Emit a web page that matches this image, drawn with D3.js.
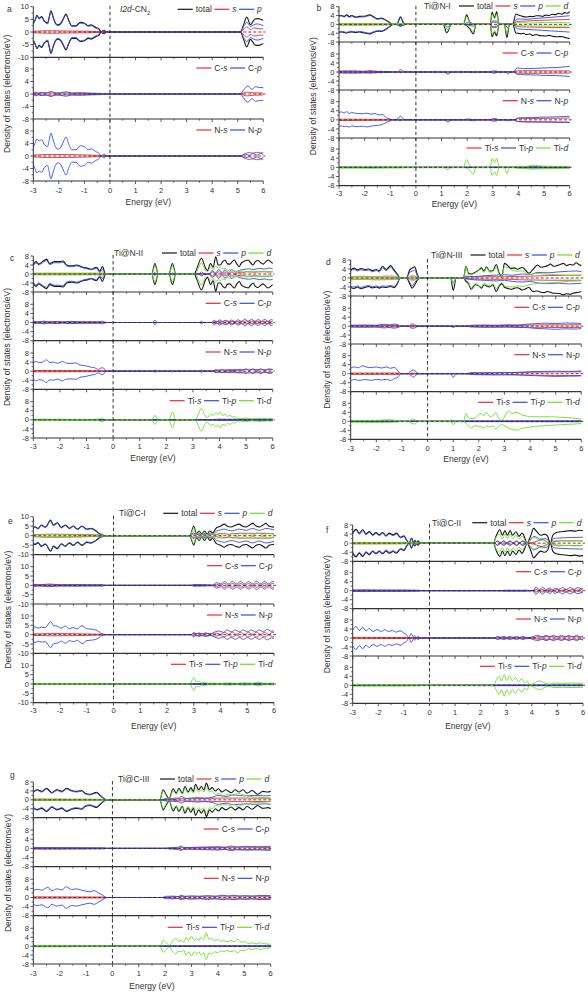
<!DOCTYPE html>
<html><head><meta charset="utf-8">
<script src="https://cdn.jsdelivr.net/npm/d3@7"></script>
<style>
body{margin:0;background:#fff}
svg{display:block}
text{font-family:"Liberation Sans",Arial,sans-serif;fill:#333}
</style>
</head><body>
<svg id="chart" width="588" height="992"></svg>
<script>
// ---------- tick values ----------
const energyTicks = [-3,-2,-1,0,1,2,3,4,5,6];
const ticks8 = [-8,-4,0,4,8];
const ticks10 = [-10,-5,0,5,10];

// ---------- DOS data: [energy, spin-up, (spin-down; default = -up)] ----------
// a: I2d-CN2
const aTot = [[-3,3.4],[-2.93,4.8],[-2.86,6.6],[-2.77,5.4],[-2.67,6.1],[-2.58,4.5],[-2.5,3.8],[-2.44,3.5],[-2.38,5.8],[-2.31,8.4],[-2.22,5.8],[-2.11,3.2],[-2.02,2.8],[-1.9,3.8],[-1.8,5.8],[-1.72,7.1],[-1.62,4.8],[-1.49,2.5],[-1.33,2.5],[-1.16,3.8],[-1.0,3.5],[-0.85,2.5],[-0.74,2.8],[-0.55,1.8],[-0.42,1.1],[-0.35,0],[-0.28,0.5],[-0.22,0.7],[-0.16,0],[5.1,0],[5.25,3.5],[5.35,5.9],[5.5,2.9],[5.6,4.2],[5.67,5.1],[5.8,5.3],[5.9,5.0],[6,4.6]];
const aS = [[-3,0.3],[-2.3,0.5],[-1.7,0.4],[-0.4,0.2],[-0.3,0],[5.1,0],[5.25,1.2],[5.35,2.0],[5.5,1.0],[5.65,1.6],[5.8,1.3],[6,1.2]];
const aP = [[-3,3.1],[-2.93,4.5],[-2.86,6.3],[-2.77,5.1],[-2.67,5.8],[-2.58,4.2],[-2.5,3.5],[-2.44,3.2],[-2.38,5.5],[-2.31,8.1],[-2.22,5.5],[-2.11,2.9],[-2.02,2.5],[-1.9,3.5],[-1.8,5.5],[-1.72,6.8],[-1.62,4.5],[-1.49,2.2],[-1.33,2.2],[-1.16,3.5],[-1.0,3.2],[-0.85,2.2],[-0.74,2.5],[-0.55,1.5],[-0.42,0.9],[-0.35,0],[-0.28,0.4],[-0.22,0.6],[-0.16,0],[5.1,0],[5.25,2.5],[5.35,3.9],[5.5,2.2],[5.62,2.8],[5.75,3.2],[5.9,2.9],[6,2.5]];
const aCs = [[-3,0.2],[-2.3,0.4],[-1.7,0.3],[-0.4,0.1],[-0.3,0],[5.1,0],[5.35,0.6],[5.6,0.4],[6,0.3]];
const aCp = [[-3,0.3],[-2.9,0.6],[-2.8,0.2],[-2.7,0.5],[-2.5,0.3],[-2.3,0.8],[-2.1,0.2],[-1.7,0.7],[-1.5,0.3],[-1.2,0.4],[-0.8,0.3],[-0.4,0.2],[-0.3,0],[5.1,0],[5.25,1.5],[5.4,2.6],[5.55,1.5],[5.7,2.3],[5.85,2.1],[6,2.0]];
const aNs = [[-3,0.3],[-2.3,0.5],[-0.4,0.2],[-0.3,0],[5.1,0],[5.3,0.8],[5.45,1.1],[5.6,0.9],[5.75,1.2],[5.9,1.0],[6,1.0]];
const aNp = [[-3,2.8],[-2.93,4.2],[-2.86,5.4],[-2.77,4.8],[-2.67,5.2],[-2.58,3.8],[-2.5,3.2],[-2.44,3.0],[-2.38,5.0],[-2.31,7.3],[-2.22,5.0],[-2.11,2.6],[-2.02,2.2],[-1.9,3.2],[-1.8,5.0],[-1.72,6.1],[-1.62,4.0],[-1.49,2.0],[-1.33,2.0],[-1.16,3.3],[-1.0,3.0],[-0.85,2.0],[-0.74,2.3],[-0.55,1.4],[-0.42,0.8],[-0.35,0],[-0.28,0.4],[-0.22,0.6],[-0.16,0],[5.1,0],[5.3,0.6],[5.45,0.2],[5.6,0.8],[5.75,0.3],[5.9,0.8],[6,0.5]];

// b: Ti@N-I
const bTot = [[-3,3.9,-3.6],[-2.9,4.0,-3.5],[-2.8,3.6,-3.7],[-2.7,4.3,-3.9],[-2.6,3.5,-3.6],[-2.5,4.0,-3.4],[-2.35,3.3,-3.7],[-2.2,3.6,-3.5],[-2.0,3.7,-3.9],[-1.8,4.3,-4.3],[-1.65,3.4,-3.6],[-1.5,2.5,-3.1],[-1.35,2.8,-3.2],[-1.15,1.8,-2.1],[-1.0,0.6,-0.9],[-0.9,0,0],[-0.75,0,0],[-0.6,3.4,-0.8],[-0.5,1.0,-0.3],[-0.4,0,0],[1.07,0,0],[1.2,0.2,-3.9],[1.39,0,0],[1.85,0,0],[1.98,4.3,-0.5],[2.1,1.0,-2.0],[2.24,0.3,-4.3],[2.35,0,0],[2.9,0,0],[2.97,5.6,-5.6],[3.07,3.0,-3.5],[3.15,5.8,-5.2],[3.25,0,0],[3.45,0,0],[3.55,0.5,-6.0],[3.65,0,0],[3.78,0,0],[3.9,4.7,-3.9],[4.0,4.2,-4.1],[4.1,3.9,-4.3],[4.2,3.5,-4.0],[4.3,3.3,-4.6],[4.45,3.6,-4.4],[4.55,3.5,-5.0],[4.7,3.9,-4.6],[4.8,3.9,-5.0],[4.95,3.6,-5.2],[5.05,4.2,-5.3],[5.2,4.0,-5.0],[5.3,4.6,-5.3],[5.45,4.4,-5.6],[5.55,5.0,-5.6],[5.7,4.6,-5.5],[5.8,5.3,-5.9],[5.9,5.0,-6.2],[6,5.8,-6.5]];
const bS = [[-3,0.3,-0.3],[-1,0.2,-0.2],[-0.9,0,0],[2.9,0,0],[3.0,1.0,-1.0],[3.15,0.8,-0.8],[3.25,0,0],[3.8,0,0],[3.95,1.3,-1.0],[4.3,1.5,-1.2],[4.8,1.8,-1.3],[5.3,2.0,-1.4],[6,2.2,-1.5]];
const bP = [[-3,3.6,-3.3],[-2.9,3.8,-3.2],[-2.8,3.3,-3.4],[-2.7,4.0,-3.6],[-2.6,3.2,-3.3],[-2.5,3.7,-3.1],[-2.35,3.0,-3.4],[-2.2,3.3,-3.2],[-2.0,3.4,-3.6],[-1.8,4.0,-4.0],[-1.65,3.1,-3.3],[-1.5,2.3,-2.9],[-1.35,2.6,-3.0],[-1.15,1.6,-1.9],[-1.0,0.5,-0.8],[-0.9,0,0],[-0.75,0,0],[-0.6,3.0,-0.6],[-0.5,0.8,-0.2],[-0.4,0,0],[1.07,0,0],[1.25,0.1,-1.2],[1.39,0,0],[1.9,0,0],[2.0,0.8,-0.2],[2.24,0.1,-0.8],[2.35,0,0],[2.9,0,0],[3.0,1.5,-1.5],[3.15,1.5,-1.3],[3.25,0,0],[3.45,0,0],[3.58,0.2,-1.5],[3.7,0,0],[3.8,0,0],[3.95,2.5,-2.0],[4.3,2.3,-2.3],[4.8,2.8,-2.6],[5.3,3.2,-3.0],[6,3.9,-3.5]];
const bD = [[-3,0.4,-0.4],[-2,0.3,-0.3],[-1,0.2,-0.2],[-0.6,0.5,-0.2],[-0.4,0,0],[1.07,0,0],[1.25,0.1,-2.5],[1.39,0,0],[1.85,0,0],[1.98,3.5,-0.4],[2.1,0.8,-1.5],[2.24,0.2,-3.3],[2.35,0,0],[2.9,0,0],[2.97,4.5,-4.5],[3.07,2.5,-2.8],[3.15,4.6,-4.2],[3.25,0,0],[3.45,0,0],[3.55,0.3,-4.0],[3.65,0,0],[3.8,0,0],[3.95,0.8,-0.6],[4.5,0.6,-0.7],[5,0.9,-0.8],[6,0.7,-0.7]];
const bCs = [[-3,0.3],[-1,0.2],[-0.9,0],[3.8,0],[3.95,0.5],[4.5,0.6],[5.5,0.5],[6,0.5]];
const bCp = [[-3,0.4,-0.4],[-2.5,0.5,-0.5],[-2,0.3,-0.4],[-1.8,0.6,-0.5],[-1.5,0.3,-0.3],[-1,0.2,-0.2],[-0.9,0,0],[-0.7,0,0],[-0.6,1.1,-0.3],[-0.5,0.4,0],[-0.4,0,0],[1.1,0,0],[1.25,0,-1.0],[1.4,0,0],[1.9,0,0],[2.0,0.3,-0.1],[2.24,0.1,-0.3],[2.35,0,0],[2.9,0,0],[3.0,0.5,-0.5],[3.15,0.4,-0.3],[3.25,0,0],[3.5,0,0],[3.6,0.1,-0.9],[3.7,0,0],[3.8,0,0],[3.95,1.8,-1.0],[4.2,1.5,-1.2],[4.6,1.6,-1.3],[5,1.8,-1.5],[5.5,2.0,-1.6],[6,2.5,-2.0]];
const bNs = [[-3,0.3],[-1,0.2],[-0.9,0],[3.8,0],[3.95,0.5,-0.7],[4.5,0.6,-0.8],[5.5,0.7,-0.9],[6,0.8,-1.0]];
const bNp = [[-3,3.2,-2.9],[-2.9,3.5,-2.7],[-2.8,3.0,-3.0],[-2.7,3.6,-2.8],[-2.6,2.8,-3.2],[-2.5,3.2,-2.7],[-2.3,2.8,-3.0],[-2.1,2.7,-2.8],[-1.9,2.9,-3.1],[-1.75,2.5,-2.8],[-1.6,2.8,-2.5],[-1.45,2.2,-2.4],[-1.3,2.3,-2.0],[-1.15,1.0,-1.2],[-1.0,0.3,-0.4],[-0.9,0,0],[-0.75,0,0],[-0.6,1.6,-0.3],[-0.5,0.5,0],[-0.4,0,0],[1.1,0,0],[1.25,0,-0.9],[1.4,0,0],[1.9,0,0],[2.0,0.4,-0.1],[2.24,0.1,-0.4],[2.35,0,0],[2.9,0,0],[3.0,0.6,-0.6],[3.15,0.4,-0.5],[3.25,0,0],[3.5,0,0],[3.6,0,-0.5],[3.7,0,0],[3.85,0,0],[4.0,0.9,-0.8],[4.5,1.0,-1.0],[5,1.2,-1.0],[5.5,1.3,-1.1],[6,1.6,-1.2]];
const bTis = [[-3,0.1],[6,0.1]];
const bTip = [[-3,0.1],[3.8,0.1],[4.5,0.3],[6,0.2]];
const bTid = [[-3,0.3,-0.3],[-2,0.3,-0.3],[-1.8,0.5,-0.4],[-1,0.2,-0.2],[-0.6,0.4,-0.2],[-0.4,0,0],[1.07,0,0],[1.25,0.1,-1.0],[1.39,0,0],[1.85,0,0],[1.98,3.4,-0.3],[2.1,0.8,-1.3],[2.24,0.2,-3.0],[2.35,0,0],[2.9,0,0],[2.97,3.9,-3.5],[3.07,2.2,-2.0],[3.15,4.0,-3.5],[3.25,0,0],[3.45,0,0],[3.55,0.2,-2.8],[3.65,0,0],[3.8,0,0],[3.95,0.5,-0.4],[4.3,0.4,-0.5],[4.6,1.0,-0.8],[4.9,0.5,-0.6],[5.5,0.4,-0.5],[6,0.4,-0.4]];

// c: Ti@N-II
const cTot = [[-3,4.0],[-2.9,5.5],[-2.8,4.4],[-2.65,5.5],[-2.5,6.5],[-2.38,4.7],[-2.2,5.5],[-2.0,5.5],[-1.88,5.8],[-1.75,4.0],[-1.57,3.6],[-1.38,4.0],[-1.13,3.0],[-0.94,2.5],[-0.82,2.1],[-0.63,3.0],[-0.5,1.3],[-0.4,3.3],[-0.28,0],[1.45,0],[1.57,4.7],[1.7,0],[2.1,0],[2.23,4.7],[2.36,0],[3.05,0],[3.15,2.5],[3.32,7.0],[3.48,2.5],[3.55,1.5],[3.66,4.7],[3.76,3.0],[3.86,7.7],[3.95,4.0],[4.03,4.0],[4.12,5.5],[4.21,6.2],[4.3,4.5],[4.39,4.4],[4.48,5.5],[4.56,6.2],[4.65,4.5],[4.74,3.3],[4.82,4.8],[4.9,5.5],[5.0,6.0],[5.08,6.2],[5.17,5.0],[5.26,4.0],[5.35,5.5],[5.45,6.0],[5.55,5.0],[5.64,4.4],[5.74,5.5],[5.83,6.2],[5.92,5.5],[6,4.7]];
const cS = [[-3,0.3],[-0.4,0.3],[-0.28,0],[3.6,0],[3.75,0.9],[3.86,0.1],[3.97,1.0],[4.1,0.1],[4.2,0.9],[4.35,0.1],[4.45,0.8],[4.6,0.1],[4.7,0.7],[4.85,0.5],[5.0,1.0],[5.3,0.8],[5.6,1.0],[6,0.9]];
const cP = [[-3,3.6],[-2.9,5.0],[-2.8,4.0],[-2.65,5.0],[-2.5,5.9],[-2.38,4.2],[-2.2,5.0],[-2.0,5.0],[-1.88,5.2],[-1.75,3.6],[-1.57,3.2],[-1.38,3.6],[-1.13,2.7],[-0.94,2.2],[-0.82,1.9],[-0.63,2.5],[-0.5,0.8],[-0.4,2.0],[-0.28,0],[1.5,0],[1.57,0.7],[1.65,0],[2.15,0],[2.23,0.5],[2.3,0],[3.2,0],[3.32,0.8],[3.45,0],[3.6,0],[3.72,1.5],[3.86,0.5],[3.97,2.0],[4.1,0.6],[4.2,1.8],[4.35,0.6],[4.45,2.0],[4.6,0.8],[4.74,1.6],[4.9,2.0],[5.1,2.3],[5.3,2.0],[5.5,2.5],[5.7,2.2],[5.85,2.6],[6,2.4]];
const cD = [[-3,0.3],[-2,0.3],[-0.5,0.3],[-0.4,1.0],[-0.3,0],[1.45,0],[1.57,3.5],[1.7,0],[2.1,0],[2.23,3.5],[2.36,0],[3.1,0],[3.2,2.5],[3.32,5.0],[3.45,2.0],[3.55,1.0],[3.66,3.0],[3.76,2.0],[3.86,3.5],[3.95,2.5],[4.03,3.0],[4.12,2.2],[4.21,2.5],[4.3,1.5],[4.39,2.0],[4.48,1.2],[4.56,1.5],[4.7,1.0],[4.9,1.3],[5.2,1.0],[5.5,1.2],[5.8,1.0],[6,1.1]];
const cCs = [[-3,0.3],[-0.3,0.2],[-0.25,0],[3.7,0],[3.86,0.5],[4.2,0.6],[4.6,0.5],[5,0.6],[5.5,0.5],[6,0.5]];
const cCp = [[-3,0.5],[-2.8,0.2],[-2.6,0.6],[-2.4,0.2],[-2.1,0.5],[-1.9,0.2],[-1.6,0.5],[-1.2,0.3],[-0.9,0.3],[-0.5,0.3],[-0.4,0.6],[-0.3,0],[1.5,0],[1.57,1.0],[1.65,0],[3.25,0],[3.32,0.6],[3.4,0],[3.7,0],[3.8,1.0],[3.9,0.2],[4.0,1.2],[4.12,0.3],[4.22,1.0],[4.35,0.3],[4.45,1.1],[4.58,0.3],[4.7,1.2],[4.82,0.4],[4.95,1.5],[5.08,0.5],[5.2,1.4],[5.33,0.5],[5.45,1.3],[5.58,0.5],[5.7,1.4],[5.83,0.5],[5.95,1.3],[6,1.1]];
const cNs = [[-3,0.3],[-0.3,0.2],[-0.25,0],[3.7,0],[3.86,0.5],[4.3,0.6],[5,0.8],[5.5,0.7],[6,0.6]];
const cNp = [[-3,3.5],[-2.9,4.3],[-2.8,3.8],[-2.65,4.0],[-2.5,5.0],[-2.38,3.8],[-2.25,4.0],[-2.1,3.5],[-1.9,4.3],[-1.75,3.5],[-1.6,3.4],[-1.4,3.6],[-1.25,2.7],[-1.05,2.4],[-0.85,1.8],[-0.7,1.5],[-0.55,0.8],[-0.47,1.3],[-0.38,1.5],[-0.3,0.5],[-0.25,0],[1.5,0],[1.57,0.5],[1.65,0],[2.15,0],[2.23,0.4],[2.3,0],[3.25,0],[3.32,0.5],[3.4,0],[3.75,0],[3.86,0.6],[3.97,0.1],[4.1,0.7],[4.2,0.1],[4.35,0.5],[4.5,0.2],[4.7,0.5],[4.9,0.4],[5.0,1.0],[5.1,0.2],[5.25,1.0],[5.4,0.2],[5.55,1.0],[5.7,0.2],[5.85,1.0],[6,0.7]];
const cTis = [[-3,0.1],[6,0.1]];
const cTip = [[-3,0.1],[3.7,0.1],[4,0.3],[6,0.2]];
const cTid = [[-3,0.3],[-1,0.2],[-0.55,0.3],[-0.4,0.9],[-0.3,0],[1.45,0],[1.57,2.0],[1.7,0],[2.1,0],[2.23,3.5],[2.36,0],[3.1,0],[3.2,2.5],[3.32,5.0],[3.45,2.0],[3.55,1.0],[3.66,2.5],[3.76,2.0],[3.86,3.0],[3.95,2.3],[4.03,3.5],[4.12,2.0],[4.21,2.5],[4.3,1.5],[4.39,2.0],[4.48,1.2],[4.56,1.5],[4.7,0.5],[4.9,0.6],[5.0,0.8],[5.2,0.4],[5.5,0.7],[5.8,0.5],[6,0.6]];

// d: Ti@N-III
const dTot = [[-3,3.5,-4.2],[-2.87,4.4,-4.6],[-2.74,3.6,-4.0],[-2.6,4.2,-4.8],[-2.45,3.8,-4.2],[-2.3,4.0,-3.8],[-2.15,3.3,-4.4],[-2.0,3.8,-4.0],[-1.88,3.2,-4.5],[-1.76,5.2,-4.0],[-1.62,3.8,-4.2],[-1.44,5.5,-3.8],[-1.31,3.6,-4.3],[-1.18,1.7,-2.5],[-1.07,0,0],[-0.82,0,0],[-0.7,3.5,-2.5],[-0.6,4.4,-4.5],[-0.5,5.0,-3.0],[-0.4,1.5,-1.0],[-0.3,0,0],[0.9,0,0],[1.0,0.3,-5.5],[1.12,0,0],[1.4,0,0],[1.5,5.2,-1.5],[1.6,2.0,-2.5],[1.7,1.8,-5.0],[1.85,2.5,-3.0],[2.0,3.5,-3.5],[2.1,4.5,-4.5],[2.2,3.0,-3.0],[2.3,5.0,-3.5],[2.42,3.0,-4.0],[2.55,3.2,-3.0],[2.68,6.0,-6.0],[2.8,2.0,-3.5],[2.9,0.5,-2.5],[3.0,6.5,-4.1],[3.1,5.8,-4.5],[3.25,4.3,-5.0],[3.4,4.5,-4.5],[3.5,3.9,-4.3],[3.7,4.7,-5.3],[3.96,2.1,-4.2],[4.1,3.6,-6.0],[4.29,5.8,-5.8],[4.42,4.8,-6.3],[4.55,5.0,-6.5],[4.68,5.5,-6.0],[4.8,6.2,-6.3],[4.92,5.2,-6.8],[5.05,5.5,-6.8],[5.18,6.0,-7.0],[5.3,6.5,-7.5],[5.42,5.5,-7.0],[5.55,6.0,-7.2],[5.68,5.8,-6.8],[5.8,6.8,-6.5],[5.9,6.0,-6.3],[6,5.5,-6.0]];
const dS = [[-3,0.5,-0.5],[-1.1,0.4,-0.4],[-1.07,0,0],[-0.8,0,0],[-0.6,0.6,-0.6],[-0.3,0,0],[1.4,0,0],[1.5,0.5,-0.3],[2.0,0.5,-0.5],[2.7,0.6,-0.6],[3.0,0.6,-0.5],[3.6,0.7,-0.8],[4.2,0.9,-0.9],[4.8,1.1,-1.0],[5.4,1.2,-1.0],[6,1.3,-1.0]];
const dP = [[-3,3.0,-3.7],[-2.87,3.9,-4.0],[-2.74,3.1,-3.5],[-2.6,3.7,-4.2],[-2.45,3.3,-3.7],[-2.3,3.5,-3.3],[-2.15,2.8,-3.9],[-2.0,3.3,-3.5],[-1.88,2.7,-4.0],[-1.76,4.5,-3.5],[-1.62,3.3,-3.7],[-1.44,4.8,-3.3],[-1.31,3.1,-3.8],[-1.18,1.4,-2.2],[-1.07,0,0],[-0.82,0,0],[-0.7,2.5,-1.8],[-0.6,3.0,-3.5],[-0.5,3.5,-2.0],[-0.4,1.0,-0.6],[-0.3,0,0],[0.9,0,0],[1.0,0.1,-2.0],[1.12,0,0],[1.4,0,0],[1.5,0.8,-0.3],[1.8,0.6,-0.8],[2.2,1.0,-1.0],[2.68,1.3,-1.3],[3.0,1.5,-1.0],[3.3,1.2,-1.5],[3.7,1.8,-1.8],[4.0,1.5,-1.5],[4.3,2.5,-2.2],[4.7,2.3,-2.5],[5.1,2.7,-2.3],[5.5,3.0,-2.6],[5.8,3.1,-2.5],[6,2.8,-2.3]];
const dD = [[-3,0.6,-0.8],[-2.5,0.8,-0.6],[-2,0.6,-0.9],[-1.5,1.0,-0.7],[-1.1,0.3,-0.3],[-1.07,0,0],[-0.8,0,0],[-0.6,1.2,-1.2],[-0.3,0,0],[0.9,0,0],[1.0,0.1,-3.0],[1.12,0,0],[1.4,0,0],[1.5,5.0,-1.0],[1.6,1.5,-2.0],[1.7,1.5,-4.5],[1.85,2.0,-2.5],[2.1,4.0,-4.0],[2.2,2.5,-2.5],[2.3,4.5,-3.0],[2.45,2.5,-3.5],[2.55,2.8,-2.5],[2.68,4.7,-4.7],[2.8,1.5,-3.0],[2.9,0.4,-2.0],[3.0,5.0,-3.5],[3.15,4.5,-3.8],[3.3,3.5,-4.0],[3.5,3.0,-3.5],[3.7,3.2,-3.8],[3.96,1.5,-3.0],[4.2,2.0,-2.5],[4.5,1.8,-2.3],[5.0,1.5,-2.0],[5.5,1.2,-1.5],[6,1.0,-1.2]];
const dCs = [[-3,0.3],[-1.1,0.3],[-1.07,0],[-0.8,0],[-0.6,0.4],[-0.3,0],[1.7,0],[2,0.3],[3.5,0.3],[4,0.5],[5,0.6],[6,0.6]];
const dCp = [[-3,0.4,-0.4],[-2.5,0.5,-0.5],[-2,0.4,-0.4],[-1.7,0.9,-0.8],[-1.5,0.6,-0.6],[-1.3,0.9,-0.9],[-1.1,0.3,-0.3],[-1.07,0,0],[-0.75,0,0],[-0.6,1.0,-1.0],[-0.5,0.5,-0.8],[-0.35,0,0],[0.9,0,0],[1.0,0,-0.6],[1.12,0,0],[1.5,0,0],[1.7,0.4,-0.4],[2.2,0.5,-0.5],[2.7,0.4,-0.5],[3.1,0.6,-0.4],[3.5,0.5,-0.6],[3.8,0.8,-0.6],[4.2,1.1,-1.0],[4.6,1.3,-1.2],[5.0,1.2,-1.4],[5.4,1.4,-1.2],[5.8,1.3,-1.3],[6,1.2,-1.1]];
const dNs = [[-3,0.3],[-1.1,0.3],[-1.07,0],[-0.75,0],[-0.6,0.3],[-0.3,0],[1.5,0],[2,0.3],[4,0.6],[5,0.8],[6,0.8]];
const dNp = [[-3,2.5,-3.2],[-2.85,3.0,-2.5],[-2.7,2.6,-3.0],[-2.55,3.5,-2.8],[-2.4,3.0,-2.6],[-2.2,2.7,-3.0],[-2.0,3.0,-2.5],[-1.8,2.5,-2.8],[-1.6,3.0,-2.5],[-1.45,2.4,-3.0],[-1.3,2.8,-2.2],[-1.15,1.2,-1.5],[-1.05,0,0],[-0.75,0,0],[-0.65,1.2,-0.8],[-0.55,1.6,-1.5],[-0.45,1.0,-0.6],[-0.35,0,0],[0.9,0,0],[1.0,0,-1.6],[1.12,0,0],[1.5,0,0],[1.7,0.5,-0.4],[2.2,0.4,-0.5],[2.7,0.5,-0.5],[3.2,0.5,-0.4],[3.7,0.7,-0.6],[4.0,0.9,-0.8],[4.5,1.0,-1.0],[5.0,1.1,-1.2],[5.5,1.0,-1.1],[6,1.2,-1.0]];
const dTis = [[-3,0.1],[6,0.1]];
const dTip = [[-3,0.1],[6,0.2]];
const dTid = [[-3,0.4,-0.4],[-2,0.4,-0.5],[-1.6,0.7,-0.5],[-1.1,0.2,-0.2],[-1.07,0,0],[-0.75,0,0],[-0.6,1.0,-1.0],[-0.5,0.8,-1.2],[-0.35,0,0],[0.9,0,0],[1.0,0,-1.5],[1.12,0,0],[1.4,0,0],[1.5,3.5,-0.8],[1.6,1.5,-2.0],[1.7,1.2,-3.0],[1.85,1.5,-2.0],[2.1,3.5,-2.5],[2.2,2.5,-3.0],[2.3,3.8,-2.0],[2.45,2.0,-2.5],[2.55,2.5,-2.0],[2.65,3.8,-3.5],[2.8,1.0,-2.0],[2.9,0.5,-1.5],[3.15,4.5,-3.0],[3.3,3.5,-3.5],[3.5,4.0,-4.0],[3.65,3.0,-3.2],[3.8,2.5,-3.0],[4.0,2.0,-2.5],[4.2,2.0,-2.2],[4.5,2.0,-2.0],[4.8,2.0,-1.8],[5.2,1.8,-1.5],[5.6,1.5,-1.3],[6,1.0,-1.0]];

// e: Ti@C-I
const eTot = [[-3,3.9],[-2.94,4.7],[-2.82,3.8],[-2.7,5.6],[-2.55,4.5],[-2.35,8.2],[-2.25,5.6],[-2.1,6.8],[-1.95,4.4],[-1.8,5.6],[-1.65,3.9],[-1.5,5.1],[-1.35,3.5],[-1.18,5.1],[-1.0,3.5],[-0.85,3.9],[-0.66,2.6],[-0.54,1.2],[-0.42,0.35],[-0.35,0],[2.85,0],[3.0,5.0],[3.1,1.0],[3.2,2.5],[3.3,0.8],[3.4,2.5],[3.5,0.8],[3.6,2.5],[3.7,1.5],[3.85,4.2],[4.0,5.0],[4.14,6.1],[4.25,5.0],[4.4,4.6],[4.55,5.5],[4.7,6.1],[4.82,5.0],[4.95,4.6],[5.08,5.5],[5.2,6.5],[5.32,5.2],[5.45,4.6],[5.58,5.5],[5.7,6.5],[5.82,5.0],[6,4.5]];
const eS = [[-3,0.5],[-2.35,0.8],[-0.4,0.3],[-0.35,0],[2.85,0],[3.0,0.8],[3.7,0.8],[3.85,0.5],[4.0,1.2],[4.3,0.8],[4.7,1.3],[5.2,1.2],[5.7,1.3],[6,1.0]];
const eP = [[-3,3.6],[-2.94,4.4],[-2.82,3.5],[-2.7,5.3],[-2.55,4.2],[-2.35,7.8],[-2.25,5.3],[-2.1,6.4],[-1.95,4.1],[-1.8,5.3],[-1.65,3.6],[-1.5,4.8],[-1.35,3.2],[-1.18,4.8],[-1.0,3.2],[-0.85,3.6],[-0.66,2.3],[-0.54,1.0],[-0.46,0.7],[-0.42,0.8],[-0.35,0],[2.85,0],[3.0,1.5],[3.1,0.4],[3.2,1.0],[3.3,0.3],[3.4,1.0],[3.5,0.3],[3.6,1.0],[3.7,0.6],[3.85,2.5],[4.0,3.0],[4.14,3.5],[4.3,2.8],[4.45,2.6],[4.7,3.5],[4.95,2.8],[5.2,3.8],[5.45,2.8],[5.7,3.8],[6,3.0]];
const eD = [[-3,0.4],[-2.35,0.6],[-1,0.3],[-0.4,0.2],[-0.35,0],[2.85,0],[3.0,4.0],[3.1,0.5],[3.2,2.0],[3.3,0.4],[3.4,1.8],[3.5,0.4],[3.6,1.5],[3.7,0.5],[3.85,1.5],[4.0,0.3],[4.15,1.5],[4.3,0.3],[4.45,1.3],[4.6,0.3],[4.75,1.3],[4.9,0.3],[5.05,1.2],[5.2,0.3],[5.4,1.5],[5.6,0.3],[5.8,1.2],[6,0.5]];
const eCs = [[-3,0.3],[-0.4,0.2],[-0.35,0],[3.7,0],[3.85,0.6],[4.0,0.1],[4.15,1.0],[4.3,0.1],[4.45,1.0],[4.6,0.1],[4.75,1.0],[4.9,0.1],[5.05,1.0],[5.2,0.1],[5.35,1.0],[5.5,0.1],[5.65,1.0],[5.8,0.1],[5.95,1.0],[6,0.8]];
const eCp = [[-3,0.6],[-2.8,0.3],[-2.4,0.7],[-2.0,0.3],[-1.5,0.4],[-1,0.3],[-0.5,0.3],[-0.4,0.5],[-0.35,0],[2.9,0],[3.0,0.5],[3.5,0.3],[3.7,0.2],[3.85,1.5],[4.0,0.8],[4.15,2.0],[4.3,0.8],[4.45,2.0],[4.6,0.8],[4.75,2.0],[4.9,0.8],[5.05,2.0],[5.2,0.8],[5.35,2.2],[5.5,0.8],[5.65,2.0],[5.8,0.8],[5.95,2.0],[6,1.8]];
const eNs = [[-3,0.4],[-2.35,0.6],[-0.4,0.2],[-0.35,0],[2.9,0],[3.0,0.6],[3.7,0.5],[3.85,0.8],[4.0,0.2],[4.15,1.2],[4.3,0.2],[4.45,1.2],[4.6,0.2],[4.75,1.2],[4.9,0.2],[5.05,1.2],[5.2,0.2],[5.35,1.2],[5.5,0.2],[5.65,1.2],[5.8,0.2],[5.95,1.2],[6,1.0]];
const eNp = [[-3,2.9],[-2.94,4.3],[-2.82,3.5],[-2.7,4.0],[-2.55,3.8],[-2.35,7.0],[-2.25,5.0],[-2.1,4.5],[-1.95,3.5],[-1.8,4.6],[-1.65,3.2],[-1.5,3.8],[-1.35,3.0],[-1.18,4.8],[-1.0,3.2],[-0.85,3.0],[-0.66,2.5],[-0.54,1.6],[-0.46,0.6],[-0.4,0.5],[-0.35,0],[2.9,0],[3.0,1.2],[3.1,0.3],[3.2,1.0],[3.3,0.3],[3.45,1.0],[3.6,0.3],[3.8,1.5],[3.95,2.0],[4.1,1.2],[4.25,2.5],[4.4,1.5],[4.55,2.5],[4.7,1.5],[4.85,2.5],[5.0,1.5],[5.15,2.5],[5.3,1.5],[5.45,2.5],[5.6,1.5],[5.75,2.8],[5.9,1.8],[6,2.0]];
const eTis = [[-3,0.1],[6,0.1]];
const eTip = [[-3,0.1],[6,0.2]];
const eTid = [[-3,0.3],[-0.4,0.2],[-0.35,0],[2.85,0],[3.0,3.5],[3.1,1.0],[3.2,1.5],[3.3,0.5],[3.4,1.0],[3.55,0.3],[3.7,0.5],[4.0,0.3],[4.3,0.6],[4.6,0.4],[4.9,0.6],[5.2,0.4],[5.4,1.0],[5.6,0.4],[6,0.5]];

// f: Ti@C-II
const fTot = [[-3,4.4],[-2.87,6.1],[-2.74,4.4],[-2.61,5.9],[-2.48,4.1],[-2.35,5.1],[-2.22,3.7],[-2.09,4.7],[-1.96,3.7],[-1.83,4.7],[-1.7,3.4],[-1.57,4.4],[-1.42,3.7],[-1.29,4.4],[-1.13,2.6],[-1.0,3.2],[-0.9,1.5],[-0.8,0],[-0.7,2.2],[-0.63,0.5],[-0.57,1.2],[-0.5,0.2],[-0.44,1.0],[-0.38,0],[2.5,0],[2.6,3.0],[2.75,5.9],[2.85,3.5],[2.95,5.5],[3.05,3.5],[3.15,5.5],[3.25,3.5],[3.38,5.0],[3.5,3.0],[3.62,4.5],[3.72,2.5],[3.81,0],[3.95,3.0],[4.07,6.5],[4.2,5.0],[4.35,3.5],[4.5,4.0],[4.62,3.0],[4.72,0],[4.82,3.5],[4.95,4.7],[5.1,5.0],[5.3,5.2],[5.5,5.5],[5.7,5.3],[5.85,5.7],[6,5.5]];
const fS = [[-3,0.3],[-0.4,0.2],[-0.38,0],[2.55,0],[2.65,0.8],[2.78,0.1],[2.9,0.8],[3.02,0.1],[3.15,0.8],[3.27,0.1],[3.4,0.8],[3.52,0.1],[3.65,0.8],[3.8,0],[4.1,0.5],[4.4,1.5],[4.6,0.5],[4.75,0],[4.9,0.8],[5.3,1.0],[5.7,1.0],[6,1.0]];
const fP = [[-3,4.0],[-2.87,5.7],[-2.74,4.0],[-2.61,5.5],[-2.48,3.7],[-2.35,4.7],[-2.22,3.3],[-2.09,4.3],[-1.96,3.3],[-1.83,4.3],[-1.7,3.0],[-1.57,4.0],[-1.42,3.3],[-1.29,4.0],[-1.13,2.3],[-1.0,2.9],[-0.9,1.3],[-0.8,0],[-0.7,2.0],[-0.63,0.4],[-0.57,1.1],[-0.5,0.2],[-0.44,0.9],[-0.38,0],[2.55,0],[2.65,1.0],[2.78,0.2],[2.9,1.0],[3.02,0.2],[3.15,1.0],[3.27,0.2],[3.4,1.0],[3.52,0.2],[3.65,1.0],[3.8,0],[3.95,1.5],[4.07,3.0],[4.2,2.5],[4.35,1.5],[4.5,2.0],[4.62,1.5],[4.72,0],[4.85,2.0],[5.0,2.2],[5.3,2.4],[5.6,2.5],[6,2.6]];
const fD = [[-3,0.3],[-2,0.3],[-0.4,0.2],[-0.38,0],[2.5,0],[2.6,2.5],[2.72,4.0],[2.85,2.0],[2.95,4.0],[3.05,2.0],[3.15,4.0],[3.27,2.0],[3.38,3.5],[3.5,1.8],[3.62,3.0],[3.72,1.5],[3.81,0],[3.95,1.5],[4.1,2.5],[4.25,1.5],[4.4,2.2],[4.55,1.0],[4.72,0],[4.85,1.0],[5.1,1.2],[5.4,1.0],[5.7,1.2],[6,1.0]];
const fCs = [[-3,0.2],[-0.4,0.1],[-0.38,0],[4.05,0],[4.15,0.6],[4.3,0.1],[4.42,0.6],[4.55,0.1],[4.7,0.5],[4.85,0.1],[5.0,0.6],[5.15,0.1],[5.3,0.6],[5.45,0.1],[5.6,0.6],[5.75,0.1],[5.9,0.6],[6,0.4]];
const fCp = [[-3,0.3],[-2.5,0.4],[-2,0.3],[-1,0.3],[-0.4,0.2],[-0.38,0],[2.6,0],[3.0,0.2],[3.75,0.2],[3.78,0.5],[3.81,0],[4.05,0],[4.15,1.5],[4.3,0.5],[4.42,1.5],[4.55,0.5],[4.7,1.2],[4.82,0.3],[4.9,1.2],[5.05,0.6],[5.2,1.4],[5.35,0.6],[5.5,1.4],[5.65,0.6],[5.8,1.4],[5.95,0.8],[6,1.2]];
const fNs = [[-3,0.3],[-0.4,0.2],[-0.38,0],[2.55,0],[2.65,0.4],[3.8,0.3],[4.05,0],[4.2,0.5],[4.6,0.6],[5,0.5],[5.5,0.6],[6,0.5]];
const fNp = [[-3,3.6],[-2.87,5.1],[-2.74,3.3],[-2.61,4.8],[-2.48,3.2],[-2.35,4.2],[-2.2,2.9],[-2.05,3.7],[-1.88,2.9],[-1.75,3.7],[-1.6,2.9],[-1.45,3.3],[-1.3,2.6],[-1.15,3.2],[-1.0,2.2],[-0.9,1.5],[-0.8,0],[-0.72,2.0],[-0.63,0.5],[-0.57,1.0],[-0.5,0.2],[-0.44,0.8],[-0.38,0],[2.55,0],[2.65,0.7],[2.78,0.1],[2.9,0.7],[3.02,0.1],[3.15,0.7],[3.27,0.1],[3.4,0.7],[3.52,0.1],[3.65,0.7],[3.8,0],[4.1,0.8],[4.25,1.2],[4.4,0.4],[4.55,1.2],[4.7,0.6],[4.85,1.2],[5.0,0.5],[5.15,1.2],[5.3,0.5],[5.45,1.2],[5.6,0.5],[5.75,1.2],[5.9,0.5],[6,1.0]];
const fTis = [[-3,0.1],[6,0.1]];
const fTip = [[-3,0.1],[6,0.2]];
const fTid = [[-3,0.4],[-2,0.3],[-1,0.3],[-0.4,0.2],[-0.38,0],[2.5,0],[2.6,2.0],[2.72,4.0],[2.82,2.0],[2.92,4.8],[3.02,2.0],[3.12,4.0],[3.24,2.0],[3.36,3.5],[3.48,1.5],[3.6,3.0],[3.72,1.2],[3.82,2.0],[3.9,0],[4.1,1.0],[4.3,2.0],[4.5,1.0],[4.7,0.5],[4.85,1.0],[5.2,0.9],[5.6,1.0],[6,0.9]];

// g: Ti@C-III
const gTot = [[-3,3.7],[-2.85,4.5],[-2.68,3.8],[-2.5,5.2],[-2.3,3.3],[-2.1,4.5],[-1.92,3.8],[-1.74,5.2],[-1.55,4.2],[-1.36,3.8],[-1.17,4.2],[-1.04,3.0],[-0.85,2.5],[-0.72,3.0],[-0.6,3.4],[-0.48,2.2],[-0.33,0.7],[-0.23,0],[1.8,0],[1.92,4.5],[2.05,2.0],[2.15,0.5],[2.3,5.0],[2.42,3.0],[2.52,5.2],[2.65,3.0],[2.75,6.0],[2.87,3.5],[2.97,5.5],[3.07,3.8],[3.15,7.0],[3.27,4.5],[3.37,6.0],[3.47,4.5],[3.56,7.5],[3.68,4.5],[3.78,5.5],[3.9,4.0],[4.02,5.0],[4.15,3.5],[4.3,4.5],[4.5,3.2],[4.65,4.5],[4.8,3.5],[4.95,4.5],[5.1,3.0],[5.3,4.2],[5.5,2.5],[5.7,3.8],[5.9,3.5],[6,4.0]];
const gS = [[-3,0.3],[-0.3,0.2],[-0.23,0],[2.3,0],[2.5,0.5],[3.5,0.6],[4.2,0.8],[5,0.8],[6,0.7]];
const gP = [[-3,3.4],[-2.85,4.2],[-2.68,3.5],[-2.5,4.8],[-2.3,3.0],[-2.1,4.2],[-1.92,3.5],[-1.74,4.8],[-1.55,3.9],[-1.36,3.5],[-1.17,3.9],[-1.04,2.7],[-0.85,2.2],[-0.72,2.7],[-0.6,3.0],[-0.48,1.9],[-0.33,0.6],[-0.23,0],[1.8,0],[2.0,0.5],[2.5,0.8],[2.6,1.5],[2.8,0.6],[3.2,1.0],[3.5,0.8],[3.8,1.2],[4.0,2.0],[4.3,1.5],[4.6,2.2],[5.0,1.8],[5.4,2.0],[5.8,1.8],[6,2.0]];
const gD = [[-3,0.3],[-2,0.3],[-0.3,0.2],[-0.23,0],[1.8,0],[1.92,4.0],[2.05,1.5],[2.15,0.3],[2.3,4.0],[2.42,2.5],[2.52,4.5],[2.65,2.5],[2.75,5.0],[2.87,3.0],[2.97,4.5],[3.07,3.0],[3.15,5.0],[3.27,3.5],[3.37,4.5],[3.47,3.5],[3.56,6.0],[3.68,3.5],[3.78,4.0],[3.9,2.5],[4.05,2.8],[4.2,2.0],[4.4,2.5],[4.6,2.0],[4.75,3.0],[4.95,2.2],[5.2,1.5],[5.5,1.2],[5.8,1.0],[6,0.8]];
const gCs = [[-3,0.2],[-0.3,0.1],[-0.23,0],[2.5,0],[2.6,0.5],[3,0.3],[4,0.4],[5,0.5],[6,0.4]];
const gCp = [[-3,0.3],[-2,0.3],[-0.3,0.2],[-0.23,0],[1.9,0],[2.2,0.3],[2.5,0.5],[2.6,1.0],[2.7,0.3],[3.2,0.5],[3.6,0.6],[4.0,0.7],[4.3,0.5],[4.5,1.0],[4.7,0.6],[5.0,0.8],[5.5,0.7],[6,0.9]];
const gNs = [[-3,0.3],[-0.3,0.2],[-0.23,0],[2.0,0],[2.3,0.4],[3,0.5],[4,0.6],[5,0.6],[6,0.5]];
const gNp = [[-3,3.0],[-2.85,3.6],[-2.68,3.2],[-2.45,4.5],[-2.3,3.0],[-2.1,3.8],[-1.92,3.3],[-1.75,4.7],[-1.55,3.5],[-1.36,3.8],[-1.17,3.2],[-1.0,2.8],[-0.85,2.5],[-0.7,3.0],[-0.55,2.2],[-0.4,1.2],[-0.3,0.4],[-0.23,0],[1.9,0],[2.0,0.5],[2.3,0.6],[2.5,0.4],[2.6,1.0],[2.75,0.5],[3.0,0.7],[3.3,0.5],[3.6,0.8],[3.9,0.5],[4.2,1.0],[4.4,0.6],[4.6,1.0],[4.8,0.6],[5.0,0.8],[5.3,0.6],[5.6,0.9],[6,0.8]];
const gTis = [[-3,0.1],[6,0.1]];
const gTip = [[-3,0.1],[6,0.2]];
const gTid = [[-3,0.3],[-2,0.3],[-1,0.2],[-0.3,0.2],[-0.23,0],[1.8,0],[1.92,2.7],[2.05,1.5],[2.15,0.3],[2.3,2.5],[2.4,3.5],[2.5,2.2],[2.6,2.5],[2.7,1.8],[2.8,4.0],[2.9,2.5],[3.0,4.5],[3.1,2.5],[3.2,3.5],[3.28,2.5],[3.35,4.0],[3.45,3.0],[3.56,6.0],[3.66,3.0],[3.75,3.5],[3.88,2.5],[4.0,3.0],[4.1,2.0],[4.2,2.5],[4.35,2.0],[4.5,2.5],[4.62,2.0],[4.75,3.0],[4.88,1.8],[5.0,2.0],[5.15,1.2],[5.3,1.5],[5.45,1.0],[5.6,1.5],[5.8,1.0],[6,0.8]];

// ---------- layout ----------
const COL = {total:'#161616', s:'#ee2a30', p:'#2f4ced', d:'#66e021'};
const ORB = {total:[['total',0]], s:[['s',1]], p:[['p',1]], d:[['d',1]]};

function sub(max, top, bot, el, series){ return {max, top, bot, el, series}; }
const panels = [
 {letter:'a', lx:7, ly:9, x0:33.3, x1:263.3, tickY:190.5, xlabY:202, ylabX:7,
  title:[['I2d',1],['-CN',0],['2',2]], tx:120, ty:9.3,
  subs:[sub(10,6.7,57.3,null,[['total',aTot],['s',aS],['p',aP]]),
        sub(8,69,119,'C',[['s',aCs],['p',aCp]]),
        sub(8,131,181,'N',[['s',aNs],['p',aNp]])]},
 {letter:'b', lx:316.5, ly:8, x0:339, x1:569.7, tickY:193.5, xlabY:204.5, ylabX:313,
  title:[['Ti@N-I',0]], tx:424, ty:6,
  subs:[sub(8,6.7,42,null,[['total',bTot],['s',bS],['p',bP],['d',bD]]),
        sub(8,54,90,'C',[['s',bCs],['p',bCp]]),
        sub(8,101.7,138,'N',[['s',bNs],['p',bNp]]),
        sub(8,149,185.7,'Ti',[['s',bTis],['p',bTip],['d',bTid]])]},
 {letter:'c', lx:10, ly:258, x0:33.3, x1:272.7, tickY:446.7, xlabY:458.5, ylabX:7,
  title:[['Ti@N-II',0]], tx:114, ty:253,
  subs:[sub(8,256,292,null,[['total',cTot],['s',cS],['p',cP],['d',cD]]),
        sub(8,304.3,340.7,'C',[['s',cCs],['p',cCp]]),
        sub(8,353,389.3,'N',[['s',cNs],['p',cNp]]),
        sub(8,401.7,438,'Ti',[['s',cTis],['p',cTip],['d',cTid]])]},
 {letter:'d', lx:326, ly:262, x0:350.7, x1:581.3, tickY:448.3, xlabY:459.5, ylabX:327,
  title:[['Ti@N-III',0]], tx:431, ty:255,
  subs:[sub(8,260,296,null,[['total',dTot],['s',dS],['p',dP],['d',dD]]),
        sub(8,308.3,344,'C',[['s',dCs],['p',dCp]]),
        sub(8,355.7,391.7,'N',[['s',dNs],['p',dNp]]),
        sub(8,403.3,439.3,'Ti',[['s',dTis],['p',dTip],['d',dTid]])]},
 {letter:'e', lx:8, ly:521, x0:33.3, x1:274, tickY:710.7, xlabY:726, ylabX:8,
  title:[['Ti@C-I',0]], tx:119, ty:513.3,
  subs:[sub(10,516.7,554.7,null,[['total',eTot],['s',eS],['p',eP],['d',eD]]),
        sub(10,566.7,604,'C',[['s',eCs],['p',eCp]]),
        sub(10,616,653.3,'N',[['s',eNs],['p',eNp]]),
        sub(10,665.3,702.7,'Ti',[['s',eTis],['p',eTip],['d',eTid]])]},
 {letter:'f', lx:326, ly:530, x0:352.7, x1:583, tickY:712.7, xlabY:726, ylabX:327,
  title:[['Ti@C-II',0]], tx:432, ty:522.7,
  subs:[sub(8,525,561.3,null,[['total',fTot],['s',fS],['p',fP],['d',fD]]),
        sub(8,572.7,608.7,'C',[['s',fCs],['p',fCp]]),
        sub(8,620,656,'N',[['s',fNs],['p',fNp]]),
        sub(8,667.3,703.3,'Ti',[['s',fTis],['p',fTip],['d',fTid]])]},
 {letter:'g', lx:10, ly:775, x0:33.3, x1:270.7, tickY:973.3, xlabY:986.5, ylabX:8,
  title:[['Ti@C-III',0]], tx:118, ty:779,
  subs:[sub(8,782,817.7,null,[['total',gTot],['s',gS],['p',gP],['d',gD]]),
        sub(8,830,866.7,'C',[['s',gCs],['p',gCp]]),
        sub(8,879.3,915.7,'N',[['s',gNs],['p',gNp]]),
        sub(8,928.3,964,'Ti',[['s',gTis],['p',gTip],['d',gTid]])]}
];

const svg = d3.select('#chart');
svg.append('rect').attr('width',588).attr('height',992).attr('fill','#fff');

function pad(data){
  const d = data.slice();
  if (d[0][0] > -3) d.unshift([-3,0,0]);
  if (d[d.length-1][0] < 6) d.push([6,0,0]);
  return d;
}
function addSegs(textSel, segs, size){
  segs.forEach(([t,st]) => {
    const ts = textSel.append('tspan').text(t);
    if (st===1) ts.attr('font-style','italic');
    if (st===2) ts.attr('baseline-shift','sub').attr('font-size', size*0.7);
  });
}

panels.forEach(P => {
  const g = svg.append('g');
  const x = d3.scaleLinear().domain([-3,6]).range([P.x0,P.x1]);
  const nS = P.subs.length;
  P.subs.forEach((S,i) => {
    const y = d3.scaleLinear().domain([-S.max,S.max]).range([S.bot,S.top]);
    const boxTop = i===0 ? S.top : P.subs[i-1].bot;
    const line = d3.line().x(d=>x(d[0])).y(d=>y(d[1])).curve(d3.curveMonotoneX);
    const cg = g.append('g');
    S.series.forEach(([k,data]) => {
      const pts = pad(data);
      const up = pts.map(d=>[d[0], d[1]]);
      const dn = pts.map(d=>[d[0], d.length>2 ? d[2] : -d[1]]);
      [up,dn].forEach(arr => cg.append('path').attr('d', line(arr))
        .attr('fill','none').attr('stroke',COL[k])
        .attr('stroke-width', k==='total'?1.1:0.9).attr('stroke-linejoin','round'));
    });
    // zero dashed line
    g.append('line').attr('x1',P.x0).attr('x2',P.x1+2).attr('y1',y(0)).attr('y2',y(0))
      .attr('stroke','#222').attr('stroke-width',0.8).attr('stroke-dasharray','3,2');
    // y axis
    const minor = S.max===10 ? [-7.5,-2.5,2.5,7.5] : [-6,-2,2,6];
    const ya = g.append('g').attr('transform',`translate(${P.x0},0)`);
    ya.append('line').attr('x1',0).attr('x2',0).attr('y1',boxTop).attr('y2',S.bot).attr('stroke','#333').attr('stroke-width',1);
    ya.selectAll('.mj').data(S.max===10?ticks10:ticks8).join('line')
      .attr('x1',-3).attr('x2',0).attr('y1',d=>y(d)).attr('y2',d=>y(d)).attr('stroke','#333').attr('stroke-width',0.8);
    ya.selectAll('.mn').data(minor).join('line')
      .attr('x1',-1.8).attr('x2',0).attr('y1',d=>y(d)).attr('y2',d=>y(d)).attr('stroke','#333').attr('stroke-width',0.7);
    ya.selectAll('text').data(S.max===10?ticks10:ticks8).join('text')
      .attr('x',-4.5).attr('y',d=>y(d)).attr('dy','0.35em').attr('text-anchor','end')
      .attr('font-size',7.5).text(d=>d);
    // bottom axis
    const xa = g.append('g').attr('transform',`translate(0,${S.bot})`);
    xa.append('line').attr('x1',P.x0).attr('x2',P.x1).attr('y1',0).attr('y2',0).attr('stroke','#333').attr('stroke-width',1.2);
    xa.selectAll('.mj').data(energyTicks).join('line')
      .attr('x1',d=>x(d)).attr('x2',d=>x(d)).attr('y1',0).attr('y2',3).attr('stroke','#333').attr('stroke-width',0.8);
    xa.selectAll('.mn').data(energyTicks.slice(0,-1).map(d=>d+0.5)).join('line')
      .attr('x1',d=>x(d)).attr('x2',d=>x(d)).attr('y1',0).attr('y2',1.8).attr('stroke','#333').attr('stroke-width',0.7);
    if (i===nS-1) {
      g.selectAll(null).data(energyTicks).join('text')
        .attr('x',d=>x(d)).attr('y',P.tickY).attr('dy','0.35em').attr('text-anchor','middle')
        .attr('font-size',7.5).text(d=>d);
    }
    // legend
    const ly = i===0 ? P.ty : y(S.max) - 1;
    const entries = i===0 ? S.series.map(s=>[s[0], ORB[s[0]]])
                          : S.series.map(s=>[s[0], [[S.el+'-',0]].concat(ORB[s[0]])]);
    const lg = g.append('g');
    let cx = 0;
    entries.forEach(([k,segs]) => {
      lg.append('line').attr('x1',cx).attr('x2',cx+15).attr('y1',ly).attr('y2',ly)
        .attr('stroke',COL[k]).attr('stroke-width',1.2);
      cx += 18;
      const t = lg.append('text').attr('x',cx).attr('y',ly).attr('dy','0.35em').attr('font-size',8.5);
      addSegs(t, segs, 8.5);
      cx += t.node().getComputedTextLength() + 2.5;
    });
    lg.attr('transform',`translate(${P.x1 + 1 - cx},0)`);
  });
  // Fermi level
  g.append('line').attr('x1',x(0)).attr('x2',x(0)).attr('y1',P.subs[0].top-1).attr('y2',P.subs[nS-1].bot)
    .attr('stroke','#222').attr('stroke-width',0.9).attr('stroke-dasharray','3.5,2.5');
  // title
  const tt = g.append('text').attr('x',P.tx).attr('y',P.ty).attr('dy','0.35em').attr('font-size',8.5);
  addSegs(tt, P.title, 8.5);
  // letter
  g.append('text').attr('x',P.lx).attr('y',P.ly).attr('dy','0.35em').attr('font-size',8.5).text(P.letter);
  // axis labels
  g.append('text').attr('x',(P.x0+P.x1)/2).attr('y',P.xlabY).attr('dy','0.35em').attr('text-anchor','middle')
    .attr('font-size',8.5).text('Energy (eV)');
  const yc = (P.subs[0].top + P.subs[nS-1].bot)/2;
  g.append('text').attr('transform',`translate(${P.ylabX},${yc}) rotate(-90)`).attr('dy','0.35em')
    .attr('text-anchor','middle').attr('font-size',8.5).text('Density of states (electrons/eV)');
});
</script>
</body></html>
